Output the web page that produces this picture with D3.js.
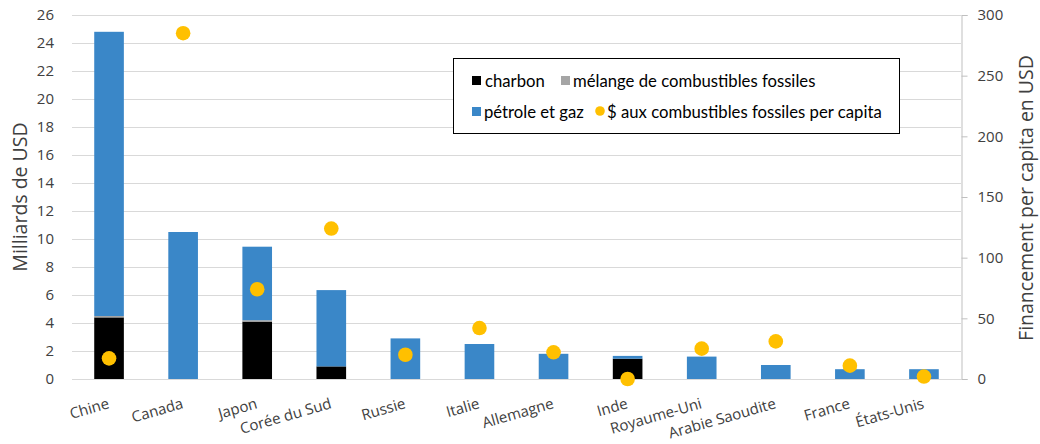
<!DOCTYPE html>
<html><head><meta charset="utf-8">
<script src="https://cdn.jsdelivr.net/npm/d3@7"></script>
<style>body{margin:0;background:#fff}svg{display:block}</style>
</head><body><svg id="c" width="1040" height="444"></svg>
<script>
const categories = ["Chine","Canada","Japon","Corée du Sud","Russie","Italie","Allemagne","Inde","Royaume-Uni","Arabie Saoudite","France","États-Unis"];
const charbon = [4.4, 0, 4.1, 0.9, 0, 0, 0, 1.45, 0, 0, 0, 0];
const melange = [0.1, 0, 0.1, 0, 0, 0, 0, 0, 0, 0, 0, 0];
const petroleGaz = [20.3, 10.5, 5.25, 5.45, 2.9, 2.5, 1.8, 0.2, 1.6, 1.0, 0.7, 0.7];
const perCapita = [17, 285, 74, 124, 20, 42, 22, 0, 25, 31, 11, 2];
const leftTicks = [0,2,4,6,8,10,12,14,16,18,20,22,24,26];
const rightTicks = [0,50,100,150,200,250,300];
const legendLabels = ["charbon", "mélange de combustibles fossiles", "pétrole et gaz", "$ aux combustibles fossiles per capita"];

const svg = d3.select("#c");
const X0 = 72, X1 = 961, Y0 = 379, Y1 = 15;
const x = d3.scaleBand().domain(categories).range([X0, X1]).paddingInner(0.6).paddingOuter(0.3);
const y = d3.scaleLinear().domain([0, 26]).range([Y0, Y1]);
const y2 = d3.scaleLinear().domain([0, 300]).range([Y0, Y1]);
const font = "'Open Sans', sans-serif";
const txt = "#404040";

// gridlines
svg.append("g").selectAll("line").data(leftTicks).join("line")
  .attr("x1", X0).attr("x2", X1).attr("y1", d => y(d) + 0.5).attr("y2", d => y(d) + 0.5)
  .attr("stroke", "#d9d9d9").attr("stroke-width", 1);

// left axis labels
const gl = svg.append("g").attr("transform", `translate(${X0},0)`)
  .call(d3.axisLeft(y).tickValues(leftTicks).tickSize(0).tickPadding(18));
gl.select(".domain").remove();
gl.selectAll("text").attr("font-family", font).attr("font-size", 15).attr("fill", txt);

// right axis
const gr = svg.append("g").attr("transform", `translate(${X1 + 0.5},0)`)
  .call(d3.axisRight(y2).tickValues(rightTicks).tickSize(6).tickPadding(10));
gr.select(".domain").attr("stroke", "#bfbfbf");
gr.selectAll(".tick line").attr("stroke", "#bfbfbf");
gr.selectAll("text").attr("font-family", font).attr("font-size", 15).attr("fill", txt);

// stacked bars
const series = [
  {key: "charbon", vals: charbon, color: "#000000"},
  {key: "melange", vals: melange, color: "#a5a5a5"},
  {key: "petrole", vals: petroleGaz, color: "#3a87c8"}
];
const base = categories.map(() => 0);
series.forEach(s => {
  svg.append("g").selectAll("rect").data(categories).join("rect")
    .attr("x", d => x(d)).attr("width", x.bandwidth())
    .attr("y", (d, i) => y(base[i] + s.vals[i]))
    .attr("height", (d, i) => y(base[i]) - y(base[i] + s.vals[i]))
    .attr("fill", s.color);
  categories.forEach((d, i) => base[i] += s.vals[i]);
});

// dots
svg.append("g").selectAll("circle").data(categories).join("circle")
  .attr("cx", d => x(d) + x.bandwidth() / 2)
  .attr("cy", (d, i) => y2(perCapita[i]))
  .attr("r", 7.3).attr("fill", "#ffc000");

// x labels
svg.append("g").selectAll("text").data(categories).join("text")
  .attr("transform", d => `translate(${x(d) + x.bandwidth() / 2 + 1},408) rotate(-16)`)
  .attr("text-anchor", "end").attr("font-family", font).attr("font-size", 15).attr("fill", txt)
  .text(d => d);

// axis titles
svg.append("text").attr("transform", "translate(27,197) rotate(-90)")
  .attr("text-anchor", "middle").attr("font-family", font).attr("font-size", 19.5).attr("fill", txt)
  .text("Milliards de USD");
svg.append("text").attr("transform", "translate(1033,198) rotate(-90)")
  .attr("text-anchor", "middle").attr("font-family", font).attr("font-size", 19.5).attr("fill", txt)
  .text("Financement per capita en USD");

// legend
const lg = svg.append("g");
lg.append("rect").attr("x", 453.5).attr("y", 58.5).attr("width", 446).attr("height", 75)
  .attr("fill", "#fff").attr("stroke", "#000").attr("stroke-width", 1);
const lf = "Lato, sans-serif";
const items = [
  {label: legendLabels[0], type: "sq", color: "#000", mx: 472, tx: 485, ty: 87},
  {label: legendLabels[1], type: "sq", color: "#a5a5a5", mx: 561, tx: 573, ty: 87},
  {label: legendLabels[2], type: "sq", color: "#3a87c8", mx: 472, tx: 484, ty: 118},
  {label: legendLabels[3], type: "ci", color: "#ffc000", mx: 600, tx: 607, ty: 118}
];
items.forEach(it => {
  if (it.type === "sq") lg.append("rect").attr("x", it.mx).attr("y", it.ty - 11).attr("width", 9).attr("height", 9).attr("fill", it.color);
  else lg.append("circle").attr("cx", it.mx).attr("cy", it.ty - 7).attr("r", 4.8).attr("fill", it.color);
  lg.append("text").attr("x", it.tx).attr("y", it.ty).attr("font-family", lf).attr("font-size", 16.7).attr("fill", "#000").text(it.label);
});
</script></body></html>
